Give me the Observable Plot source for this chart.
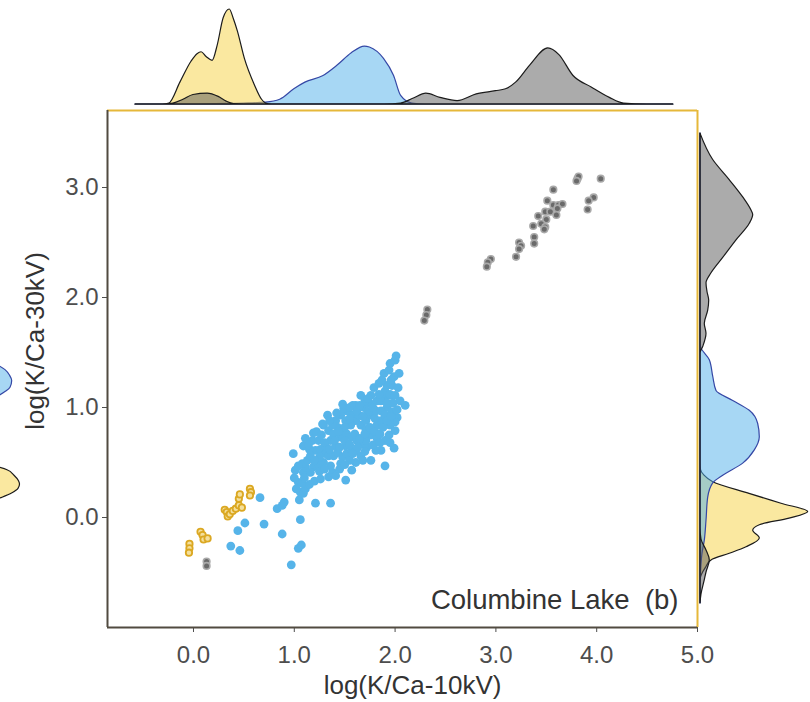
<!DOCTYPE html>
<html><head><meta charset="utf-8">
<script src="https://cdn.jsdelivr.net/npm/d3@7"></script>
<script src="https://cdn.jsdelivr.net/npm/@observablehq/plot@0.6"></script>
<style>
html,body{margin:0;padding:0;background:#fff;}
#wrap{position:relative;width:810px;height:702px;overflow:hidden;background:#fff;}
#wrap svg{position:absolute;}
</style></head><body><div id="wrap"></div>
<script>
// ---------- data ----------
const xTicks = [0, 1, 2, 3, 4, 5];
const yTicks = [0, 1, 2, 3];
const xLabel = "log(K/Ca-10kV)";
const yLabel = "log(K/Ca-30kV)";
const panelLabel = "Columbine Lake  (b)";

const bluePts = [[0.97,-0.43],[1.04,-0.28],[1.07,-0.25],[0.88,-0.15],[1.06,-0.02],[1.21,0.13],[1.36,0.13],[0.83,0.08],[0.88,0.11],[0.90,0.14],[1.05,0.16],[0.66,0.18],[0.51,-0.05],[0.70,-0.06],[0.44,-0.12],[0.37,-0.26],[0.46,-0.30],[1.06,0.23],[1.09,0.22],[1.11,0.26],[1.04,0.32],[1.08,0.31],[1.20,0.33],[1.51,0.34],[1.34,0.37],[1.38,0.41],[1.57,0.43],[1.09,0.41],[1.11,0.46],[1.08,0.49],[1.13,0.52],[1.19,0.46],[1.24,0.48],[1.29,0.50],[0.99,0.58],[1.09,0.65],[1.18,0.70],[1.21,0.61],[1.26,0.62],[1.31,0.58],[1.34,0.56],[1.39,0.56],[1.43,0.59],[1.48,0.55],[1.52,0.58],[1.57,0.61],[1.76,0.52],[1.90,0.47],[1.99,0.63],[1.86,0.61],[1.29,0.84],[1.34,0.79],[1.39,0.76],[1.46,0.73],[1.33,0.93],[1.28,0.85],[1.52,0.97],[1.57,0.93],[1.61,0.88],[1.66,0.84],[1.71,0.80],[1.43,0.82],[1.48,0.79],[1.52,0.76],[1.57,0.73],[1.62,0.70],[1.67,0.67],[1.72,0.64],[1.76,0.75],[1.82,0.72],[1.90,0.70],[1.94,0.75],[1.69,1.00],[1.76,1.03],[1.82,1.06],[1.89,1.09],[1.95,1.11],[1.92,1.00],[1.97,0.96],[2.02,0.91],[2.00,0.87],[2.10,1.02],[1.79,1.18],[1.84,1.22],[1.90,1.15],[1.95,1.12],[2.00,1.11],[1.89,1.31],[1.94,1.34],[1.99,1.28],[2.04,1.31],[1.95,1.40],[2.00,1.43],[2.01,1.47],[1.36,0.70],[1.41,0.65],[1.51,0.65],[1.61,0.61],[1.66,0.56],[1.56,0.84],[1.64,0.93],[1.71,0.88],[1.76,0.93],[1.82,0.84],[1.86,0.88],[1.81,0.97],[1.86,0.97],[1.90,0.93],[1.76,1.11],[1.70,1.06],[1.66,1.11],[1.61,1.02],[1.46,0.93],[1.41,0.88],[1.51,0.88],[1.24,0.70],[1.31,0.65],[1.16,0.56],[1.46,0.49],[1.36,0.47],[1.71,0.70],[1.81,0.61],[1.95,0.84],[2.00,0.79],[2.05,1.06],[1.86,1.06],[1.58,1.02],[1.49,0.99],[1.73,1.08],[1.19,0.77],[1.11,0.72],[1.04,0.47],[1.01,0.43],[1.41,0.38],[1.26,0.35],[1.61,0.50],[1.16,0.41],
  [1.25,0.55],[1.30,0.68],[1.35,0.62],[1.40,0.70],[1.45,0.64],[1.50,0.70],[1.55,0.66],[1.60,0.76],[1.65,0.72],[1.70,0.76],[1.75,0.82],[1.80,0.78],[1.85,0.76],[1.88,0.82],[1.92,0.88],[1.96,0.92],[1.80,0.90],[1.73,0.96],[1.68,0.92],[1.62,0.97],[1.55,0.90],[1.50,0.82],[1.44,0.78],[1.38,0.84],[1.35,0.88],[1.42,0.95],[1.48,1.03],[1.55,1.00],[1.65,1.02],[1.78,1.00],[1.84,1.12],[1.92,1.20],[1.97,1.20],[2.03,1.18],[1.87,1.25],[1.96,1.25],[1.15,0.62],[1.20,0.52],[1.10,0.36],[1.15,0.30],[1.25,0.42],[1.30,0.44],[1.45,0.44],[1.55,0.52],[1.50,0.48],[1.70,0.60],[1.78,0.66],[1.85,0.68],[1.95,0.68],[2.02,0.98],[1.00,0.36],[1.02,0.26],[1.14,0.66],[1.22,0.78],[1.27,0.75],[1.58,0.58],[1.63,0.64],[1.68,0.52],[1.92,1.04],[1.98,1.04]];

const greyPts = [[3.81,3.08],[3.82,3.10],[3.80,3.06],[4.04,3.08],[3.57,2.98],[3.51,2.88],[3.57,2.84],[3.62,2.84],[3.66,2.85],[3.61,2.81],[3.49,2.78],[3.54,2.78],[3.60,2.75],[3.42,2.74],[3.50,2.71],[3.45,2.67],[3.49,2.64],[3.48,2.62],[3.37,2.65],[3.97,2.91],[3.92,2.88],[3.91,2.80],[3.38,2.55],[3.38,2.49],[3.23,2.50],[3.25,2.47],[3.23,2.44],[3.20,2.37],[2.95,2.35],[2.92,2.32],[2.91,2.28],[2.32,1.89],[2.31,1.84],[2.29,1.79],[0.13,-0.40],[0.13,-0.44]];

const yellowPts = [[-0.04,-0.24],[-0.04,-0.28],[-0.045,-0.32],[0.07,-0.13],[0.09,-0.16],[0.10,-0.20],[0.14,-0.19],[0.31,0.07],[0.33,0.05],[0.34,0.01],[0.36,0.03],[0.39,0.06],[0.42,0.08],[0.45,0.11],[0.48,0.09],[0.45,0.17],[0.46,0.21],[0.56,0.26],[0.57,0.23],[0.56,0.20]];

// marginal densities along x: [x, density]
const topYellow = [[-0.575,0],[-0.30,0],[-0.24,0.01],[-0.13,0.23],[-0.02,0.45],[0.04,0.53],[0.08,0.55],[0.13,0.50],[0.19,0.46],[0.24,0.62],[0.30,0.91],[0.36,1.0],[0.40,0.90],[0.44,0.77],[0.51,0.48],[0.61,0.20],[0.68,0.05],[0.72,0.01],[0.78,0],[4.76,0]];
const topBlue = [[-0.575,0],[0.0,0],[0.2,0.005],[0.5,0.01],[0.72,0.02],[0.86,0.05],[1.0,0.16],[1.11,0.23],[1.29,0.30],[1.43,0.41],[1.57,0.54],[1.70,0.61],[1.75,0.60],[1.89,0.48],[1.99,0.30],[2.06,0.09],[2.17,0.01],[2.3,0],[4.76,0]];
const topGrey = [[-0.575,0],[-0.3,0],[-0.2,0.01],[-0.1,0.05],[0.0,0.10],[0.14,0.115],[0.25,0.08],[0.33,0.03],[0.4,0.005],[0.5,0],[1.9,0],[2.06,0.01],[2.18,0.06],[2.31,0.114],[2.45,0.07],[2.62,0.036],[2.81,0.107],[3.0,0.14],[3.10,0.16],[3.20,0.23],[3.34,0.41],[3.52,0.59],[3.63,0.52],[3.77,0.30],[3.95,0.18],[4.13,0.07],[4.27,0.01],[4.5,0],[4.76,0]];

// marginal densities along y: [y, density]
const rightYellow = [[-0.78,0],[-0.57,0],[-0.45,0.06],[-0.39,0.11],[-0.33,0.293],[-0.27,0.46],[-0.19,0.593],[-0.12,0.527],[-0.07,0.593],[-0.01,0.89],[0.05,1.077],[0.125,0.81],[0.215,0.49],[0.32,0.127],[0.38,0.04],[0.43,0.005],[0.5,0],[3.49,0]];
const rightBlue = [[-0.78,0],[-0.6,0],[-0.5,0.005],[-0.33,0.02],[-0.21,0.043],[-0.03,0.06],[0.18,0.077],[0.31,0.127],[0.38,0.227],[0.49,0.427],[0.61,0.543],[0.73,0.593],[0.85,0.577],[0.97,0.493],[1.06,0.327],[1.15,0.16],[1.28,0.127],[1.43,0.093],[1.55,0.005],[1.6,0],[3.49,0]];
const rightGrey = [[-0.78,0],[-0.7,0.01],[-0.57,0.043],[-0.5,0.06],[-0.39,0.093],[-0.3,0.06],[-0.2,0.01],[-0.1,0],[1.49,0],[1.55,0.027],[1.67,0.06],[1.76,0.043],[1.88,0.077],[1.97,0.087],[2.05,0.07],[2.13,0.06],[2.22,0.11],[2.36,0.227],[2.52,0.36],[2.67,0.493],[2.75,0.527],[2.79,0.51],[2.91,0.427],[3.07,0.29],[3.25,0.127],[3.49,0]];

// tips of the neighbouring panel's marginal densities (cut by the left edge)
const fragBlue = [[1.10,0.88],[1.14,0.95],[1.18,1.00],[1.24,1.017],[1.29,0.995],[1.34,0.95],[1.38,0.88]];
const fragYellow = [[0.16,0.86],[0.18,0.92],[0.22,1.02],[0.26,1.08],[0.30,1.095],[0.33,1.085],[0.38,1.04],[0.43,0.97],[0.46,0.86]];

// ---------- styling ----------
const font = '"Liberation Sans", Arial, Helvetica, sans-serif';
const X_DOMAIN = [-0.853, 5.0];
const Y_DOMAIN = [-1.0, 3.7];
const gold = "#E6B83A", dark = "#514b40";
const cYellow = {fill: "#F5D141", line: "#1b1b1b"};
const cBlue = {fill: "#4FB0EA", line: "#3548a6"};
const cGrey = {fill: "#575757", line: "#1b1b1b"};

const wrap = document.getElementById("wrap");
function place(svg, left, top) { svg.style.left = left + "px"; svg.style.top = top + "px"; wrap.appendChild(svg); }

// main scatter
const main = Plot.plot({
  width: 810, height: 702,
  marginLeft: 107, marginRight: 113, marginTop: 110, marginBottom: 75,
  style: {fontFamily: font, fontSize: "24px", color: "#4d4d4d", background: "transparent"},
  x: {domain: X_DOMAIN},
  y: {domain: Y_DOMAIN},
  marks: [
    Plot.axisX({ticks: xTicks, tickFormat: d3.format(".1f"), tickSize: 5, tickPadding: 13, label: null, fontSize: 24}),
    Plot.axisY({ticks: yTicks, tickFormat: d3.format(".1f"), tickSize: 5, tickPadding: 4, label: null, fontSize: 24}),
    Plot.text([xLabel], {frameAnchor: "bottom", textAnchor: "middle", lineAnchor: "middle", dx: 10, dy: 58, fontSize: 26, fill: "#333"}),
    Plot.text([yLabel], {frameAnchor: "left", textAnchor: "middle", lineAnchor: "middle", rotate: -90, dx: -72, dy: -28, fontSize: 26, fill: "#333"}),
    Plot.dot(bluePts, {x: d => d[0], y: d => d[1], r: 4.4, fill: "#56B4E9"}),
    Plot.dot(greyPts, {x: d => d[0], y: d => d[1], r: 3.3, fill: "#6a6a6a", stroke: "#a9a9a9", strokeWidth: 1.6}),
    Plot.dot(yellowPts, {x: d => d[0], y: d => d[1], r: 3.2, fill: "#f4df9c", stroke: "#DBA822", strokeWidth: 1.8}),
    Plot.ruleY([Y_DOMAIN[1]], {stroke: gold, strokeWidth: 2}),
    Plot.ruleX([X_DOMAIN[1]], {stroke: gold, strokeWidth: 2}),
    Plot.ruleX([X_DOMAIN[0]], {stroke: dark, strokeWidth: 2}),
    Plot.ruleY([Y_DOMAIN[0]], {stroke: dark, strokeWidth: 2}),
    Plot.text([panelLabel], {frameAnchor: "bottom-right", lineAnchor: "middle", dx: -19, dy: -27, fontSize: 27.5, fill: "#333"})
  ]
});
place(main, 0, 0);

// top marginal
const areaTop = (data, c) => Plot.areaY(data, {x: d => d[0], y: d => d[1], curve: "monotone-x",
  fill: c.fill, fillOpacity: 0.5, stroke: c.line, strokeWidth: 1.2});
const topPlot = Plot.plot({
  width: 810, height: 110, marginLeft: 107, marginRight: 113, marginTop: 0, marginBottom: 6,
  style: {background: "transparent"},
  x: {domain: X_DOMAIN, axis: null},
  y: {domain: [0, 1.095], axis: null},
  marks: [areaTop(topBlue, cBlue), areaTop(topYellow, cYellow), areaTop(topGrey, cGrey)]
});
place(topPlot, 0, 0);

// right marginal
const areaRight = (data, c, clip) => Plot.areaX(data, {y: d => d[0], x: d => d[1], curve: "monotone-y",
  fill: c.fill, fillOpacity: 0.5, stroke: c.line, strokeWidth: 1.2, clip});
const rightPlot = Plot.plot({
  width: 113, height: 702, marginLeft: 3, marginRight: 0, marginTop: 110, marginBottom: 75,
  style: {background: "transparent"},
  x: {domain: [0, 1.10], axis: null},
  y: {domain: Y_DOMAIN, axis: null},
  marks: [areaRight(rightYellow, cYellow), areaRight(rightBlue, cBlue), areaRight(rightGrey, cGrey)]
});
place(rightPlot, 697, 0);

// left fragment (neighbouring panel)
const fragPlot = Plot.plot({
  width: 30, height: 702, marginLeft: 0, marginRight: 0, marginTop: 110, marginBottom: 75,
  style: {background: "transparent"},
  x: {domain: [0.9, 1.2], axis: null},
  y: {domain: Y_DOMAIN, axis: null},
  marks: [areaRight(fragYellow, cYellow, true), areaRight(fragBlue, cBlue, true)]
});
place(fragPlot, 0, 0);
</script>
</body></html>
